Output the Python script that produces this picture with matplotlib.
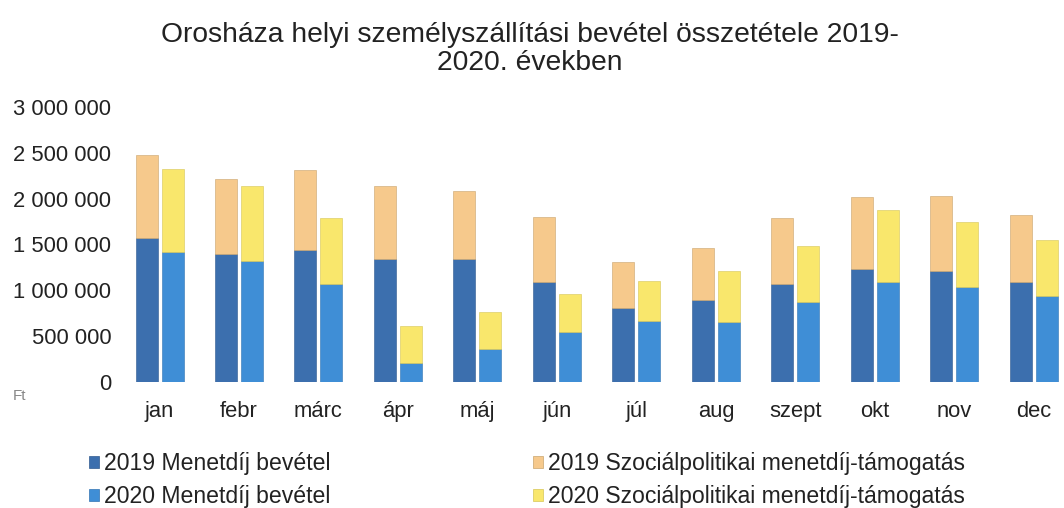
import matplotlib
matplotlib.use("Agg")
import matplotlib.pyplot as plt
import numpy as np
from matplotlib.patches import Patch
from matplotlib.ticker import FuncFormatter

plt.rcParams['font.family'] = ['Liberation Sans', 'DejaVu Sans']

months = ["jan", "febr", "márc", "ápr", "máj", "jún", "júl", "aug", "szept", "okt", "nov", "dec"]

menet_2019 = [1567000, 1393000, 1440000, 1338000, 1338000, 1087000, 804000, 895000, 1065000, 1229000, 1211000, 1094000]
szoc_2019 = [909000, 817000, 873000, 800000, 749000, 709000, 509000, 570000, 728000, 793000, 818000, 724000]
menet_2020 = [1415000, 1323000, 1069000, 204000, 356000, 542000, 665000, 658000, 869000, 1087000, 1040000, 938000]
szoc_2020 = [905000, 815000, 720000, 410000, 411000, 418000, 440000, 556000, 615000, 789000, 709000, 611000]

labels = ["2019 Menetdíj bevétel", "2020 Menetdíj bevétel",
          "2019 Szociálpolitikai menetdíj-támogatás", "2020 Szociálpolitikai menetdíj-támogatás"]
yticks = [0, 500000, 1000000, 1500000, 2000000, 2500000, 3000000]

c_m19 = "#3c6fae"
c_m20 = "#3f8ed6"
c_s19 = "#f6c98c"
c_s20 = "#f9e76c"

W, H = 1064, 508
fig = plt.figure(figsize=(W / 100, H / 100), dpi=100)

sp = 79.5
x0 = 159.5
left_px = x0 - sp / 2
axw = 12 * sp
bottom_px = H - 382
top_px = H - 107
ax = fig.add_axes([left_px / W, bottom_px / H, axw / W, (top_px - bottom_px) / H])

x = np.arange(len(months))
bw = 22 / sp
off = (22 + 4) / sp / 2

ax.bar(x - off, menet_2019, bw, color=c_m19, edgecolor="#2f5a8f", linewidth=0.4)
ax.bar(x - off, szoc_2019, bw, bottom=menet_2019, color=c_s19, edgecolor="#c9a46c", linewidth=0.4)
ax.bar(x + off, menet_2020, bw, color=c_m20, edgecolor="#3274b3", linewidth=0.4)
ax.bar(x + off, szoc_2020, bw, bottom=menet_2020, color=c_s20, edgecolor="#d6c656", linewidth=0.4)

ax.set_xlim(-0.5, 11.5)
ax.set_ylim(0, 3000000)
ax.set_yticks(yticks)
ax.yaxis.set_major_formatter(FuncFormatter(lambda v, p: f"{int(v):,}".replace(",", " ")))
ax.set_xticks(x)
ax.set_xticklabels(months)
ax.tick_params(axis='both', length=0, labelsize=15.8, colors="#222222")
ax.tick_params(axis='y', pad=6)
ax.tick_params(axis='x', pad=14)
for s in ax.spines.values():
    s.set_visible(False)

fig.text(20 / W, 1 - 396 / H, "Ft", fontsize=11, color="#888888", ha="center", va="center")

fig.text(530 / W, 1 - 49 / H, "Orosháza helyi személyszállítási bevétel összetétele 2019-\n2020. években",
         ha="center", va="center", fontsize=20.3, color="#222222", linespacing=1.05)

h = [Patch(facecolor=c_m19, edgecolor="#2f5a8f", linewidth=0.5),
     Patch(facecolor=c_m20, edgecolor="#3274b3", linewidth=0.5),
     Patch(facecolor=c_s19, edgecolor="#c9a46c", linewidth=0.5),
     Patch(facecolor=c_s20, edgecolor="#d6c656", linewidth=0.5)]

common = dict(frameon=False, fontsize=16.6, handlelength=0.45, handleheight=0.45,
              handletextpad=0.2, labelspacing=0.45, borderpad=0, borderaxespad=0,
              labelcolor="#222222")
leg1 = fig.legend(h[:2], labels[:2], loc="upper left",
                  bbox_to_anchor=(89 / W, 1 - 452 / H), **common)
leg2 = fig.legend(h[2:], labels[2:], loc="upper left",
                  bbox_to_anchor=(533 / W, 1 - 452 / H), **common)

fig.savefig("out.png", dpi=100)
